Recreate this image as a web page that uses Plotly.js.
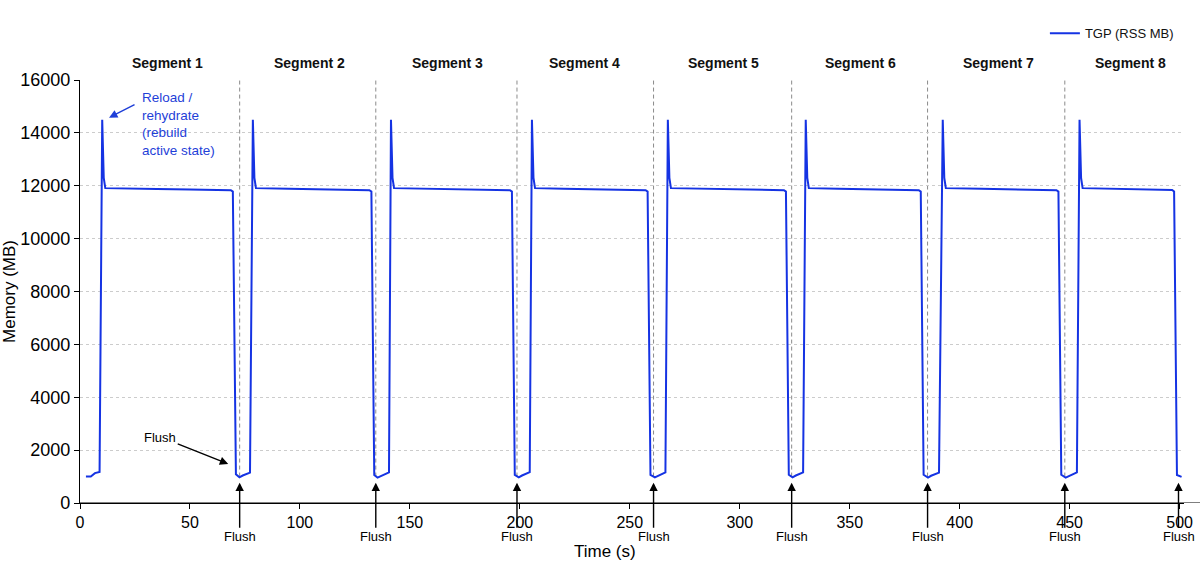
<!DOCTYPE html>
<html>
<head>
<meta charset="utf-8">
<script src="https://cdn.plot.ly/plotly-3.0.1.min.js"></script>
<style>
  html, body { margin: 0; padding: 0; background: #ffffff; }
  #chart { width: 1200px; height: 580px; }
</style>
</head>
<body>
<div id="chart"></div>
<script>
// Memory trace of the TGP process, sampled over time (seconds, MB)
const timeS = [
  2.7, 4.9, 6.8, 8.9, 10.1, 10.8, 11.5, 20, 35, 50, 65, 68.6, 69.5, 70.9, 72.5, 74, 77.3,
  78.6, 79.3, 80, 95, 110, 125, 131.6, 132.5, 133.8, 135.3, 137, 140.5,
  141.4, 142.1, 142.8, 160, 175, 190, 195.5, 196.4, 197.7, 199.5, 201, 204.5,
  205.5, 206.2, 206.9, 220, 235, 250, 257.2, 258.1, 259.4, 261.4, 263, 266.2,
  267.3, 268, 268.7, 285, 300, 312, 320.1, 321, 322.3, 324, 325.5, 328.8,
  330, 330.7, 331.4, 345, 360, 372, 381.4, 382.3, 383.6, 385.6, 387, 390.6,
  392.3, 393, 393.7, 410, 425, 435, 444, 444.9, 446.2, 448.2, 449.8, 453.3,
  454.5, 455.2, 455.9, 470, 485, 496.6, 497.5, 498.8, 500.9
];
const memoryMB = [
  1000, 1000, 1130, 1170, 14500, 12300, 11910, 11890, 11880, 11860, 11850, 11830, 11780, 1085, 970, 1040, 1150,
  14500, 12300, 11910, 11890, 11870, 11850, 11830, 11780, 1060, 960, 1030, 1160,
  14500, 12300, 11910, 11890, 11870, 11850, 11830, 11780, 1060, 970, 1040, 1170,
  14500, 12300, 11910, 11890, 11870, 11850, 11830, 11780, 1060, 970, 1040, 1160,
  14500, 12300, 11910, 11890, 11870, 11850, 11830, 11780, 1070, 970, 1040, 1160,
  14500, 12300, 11910, 11890, 11870, 11850, 11830, 11780, 1070, 960, 1030, 1150,
  14500, 12300, 11910, 11890, 11870, 11850, 11830, 11780, 1070, 960, 1030, 1160,
  14500, 12300, 11910, 11890, 11870, 11840, 11780, 1060, 990
];

// Flush events (s); the last one closes the run and has no divider
const flushTimes = [72.6, 134.5, 198.7, 260.8, 323.6, 385.4, 447.8, 499.5];

// Segment headings and their centre times
const segmentLabels = ['Segment 1', 'Segment 2', 'Segment 3', 'Segment 4',
                       'Segment 5', 'Segment 6', 'Segment 7', 'Segment 8'];
const segmentCentres = [40, 104.5, 167, 229.5, 292.5, 355, 417.5, 477.5];

const xTicks = [0, 50, 100, 150, 200, 250, 300, 350, 400, 450, 500];
const yTicks = [0, 2000, 4000, 6000, 8000, 10000, 12000, 14000, 16000];

const FONT = 'Liberation Sans, Arial, Helvetica, sans-serif';
const BLUE = '#1533e3';
const TEXT_BLUE = '#1f3fd8';

const trace = {
  x: timeS,
  y: memoryMB,
  type: 'scatter',
  mode: 'lines',
  name: 'TGP (RSS MB)',
  line: { color: BLUE, width: 2 }
};

const shapes = [];
// dashed dividers at each flush between segments
flushTimes.slice(0, -1).forEach(t => {
  shapes.push({
    type: 'line', xref: 'x', yref: 'y',
    x0: t, x1: t, y0: 1000, y1: 16000,
    line: { color: '#8a8a8a', width: 1, dash: '4px,3px' },
    layer: 'below'
  });
});
// time axis baseline runs to the page edge
shapes.push({
  type: 'line', xref: 'paper', yref: 'y',
  x0: 0, x1: 1.0145, y0: 0, y1: 0,
  line: { color: '#000000', width: 1.2 },
  layer: 'above'
});

const annotations = [];
segmentLabels.forEach((label, i) => {
  annotations.push({
    x: segmentCentres[i], xref: 'x',
    y: 1.04, yref: 'paper', yanchor: 'middle',
    text: '<b>' + label + '</b>',
    showarrow: false,
    font: { family: FONT, size: 14, color: '#111111' }
  });
});
flushTimes.forEach(t => {
  annotations.push({
    x: t, y: 770, xref: 'x', yref: 'y',
    text: 'Flush',
    showarrow: true, ax: 0, ay: 54,
    arrowhead: 2, arrowsize: 1.2, arrowwidth: 1.4, arrowcolor: '#000000',
    font: { family: FONT, size: 13, color: '#000000' }
  });
});
// callout for the first flush drop
annotations.push({
  x: 67.4, y: 1475, xref: 'x', yref: 'y',
  text: 'Flush',
  showarrow: true, ax: -68, ay: -27,
  arrowhead: 2, arrowsize: 1.2, arrowwidth: 1.4, arrowcolor: '#000000',
  font: { family: FONT, size: 13, color: '#000000' }
});
// callout for the reload spike
annotations.push({
  x: 13.2, y: 14573, xref: 'x', yref: 'y',
  text: '',
  showarrow: true, ax: 27, ay: -14,
  arrowhead: 2, arrowsize: 1.2, arrowwidth: 1.4, arrowcolor: TEXT_BLUE
});
annotations.push({
  x: 27.5, y: 15680, xref: 'x', yref: 'y',
  xanchor: 'left', yanchor: 'top', align: 'left',
  text: 'Reload /<br>rehydrate<br>(rebuild<br>active state)',
  showarrow: false,
  font: { family: FONT, size: 13.5, color: TEXT_BLUE }
});
// time axis title, set slightly left of the plot centre
annotations.push({
  x: 238.6, xref: 'x',
  y: -0.1135, yref: 'paper', yanchor: 'middle',
  text: 'Time (s)',
  showarrow: false,
  font: { family: FONT, size: 17, color: '#000000' }
});

const layout = {
  width: 1200,
  height: 580,
  margin: { l: 80, r: 16, t: 80, b: 77 },
  paper_bgcolor: '#ffffff',
  plot_bgcolor: '#ffffff',
  font: { family: FONT, color: '#000000' },
  showlegend: true,
  legend: {
    x: 0.874, y: 1.146, xanchor: 'left', yanchor: 'top',
    font: { family: FONT, size: 13, color: '#111111' },
    bgcolor: 'rgba(0,0,0,0)'
  },
  xaxis: {
    range: [0, 502],
    tickvals: xTicks,
    ticktext: xTicks.map(String),
    ticks: 'outside', ticklen: 5, tickcolor: '#000000', tickwidth: 1,
    showline: true, linecolor: '#000000', linewidth: 1.2,
    showgrid: false, zeroline: false,
    tickfont: { family: FONT, size: 16, color: '#000000' }
  },
  yaxis: {
    range: [0, 16000],
    tickvals: yTicks,
    ticktext: yTicks.map(String),
    ticks: 'outside', ticklen: 5, tickcolor: '#000000', tickwidth: 1,
    showline: true, linecolor: '#000000', linewidth: 1.2,
    showgrid: true, gridcolor: '#cccccc', griddash: 'dot', gridwidth: 1,
    zeroline: false,
    tickfont: { family: FONT, size: 18, color: '#000000' },
    title: { text: 'Memory (MB)', font: { family: FONT, size: 17, color: '#000000' }, standoff: 6 }
  },
  shapes: shapes,
  annotations: annotations
};

Plotly.newPlot('chart', [trace], layout, { staticPlot: true, displayModeBar: false });
</script>
</body>
</html>
